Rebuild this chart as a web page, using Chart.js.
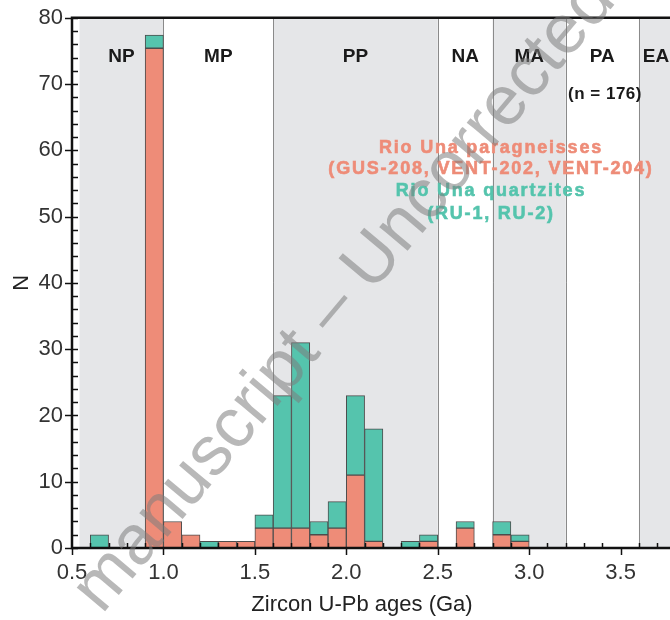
<!DOCTYPE html>
<html>
<head>
<meta charset="utf-8">
<script src="https://cdn.jsdelivr.net/npm/chart.js@4/dist/chart.umd.min.js"></script>
<style>
  html, body { margin: 0; padding: 0; background: #fff; }
  #wrap { width: 670px; height: 620px; }
</style>
</head>
<body>
<div id="wrap"><canvas id="myChart" width="670" height="620"></canvas></div>
<script>
"use strict";

// histogram bin centres (Ga), 0.1 Ga bins
let binCenters = [0.65, 0.95, 1.05, 1.15, 1.25, 1.35, 1.45, 1.55, 1.65, 1.75, 1.85, 1.95, 2.05, 2.15, 2.35, 2.45, 2.65, 2.85, 2.95];
let paragneissCounts = [0, 75.4, 4, 2, 0, 1, 1, 3, 3, 3, 2, 3, 11, 1, 0, 1, 3, 2, 1];
let quartziteCounts = [2, 2, 0, 0, 1, 0, 0, 2, 20, 28, 2, 4, 12, 17, 1, 1, 1, 2, 1];

let xTickLabels = [0.5, 1.0, 1.5, 2.0, 2.5, 3.0, 3.5];
let yTickLabels = [0, 10, 20, 30, 40, 50, 60, 70, 80];

// geological eras: name, start, end, shaded
let eraNames = ["NP", "MP", "PP", "NA", "MA", "PA", "EA"];
let eraStarts = [0.541, 1.0, 1.6, 2.5, 2.8, 3.2, 3.6];
let eraEnds = [1.0, 1.6, 2.5, 2.8, 3.2, 3.6, 4.0];
let eraShaded = [true, false, true, false, true, false, true];

let salmon = "#ee8c78";
let teal = "#55c4ad";
let fontFam = "'Liberation Sans', Arial, sans-serif";

function toPoints(values) {
  let pts = [];
  for (let i = 0; i < binCenters.length; i++) {
    pts.push({ x: binCenters[i], y: values[i] });
  }
  return pts;
}

function boldText(ctx, text, x, y) {
  ctx.fillText(text, x, y);
  ctx.strokeText(text, x, y);
}

let backdropPlugin = {
  id: "backdrop",
  beforeDatasetsDraw(chart) {
    let ctx = chart.ctx;
    let xs = chart.scales.x;
    let area = chart.chartArea;
    ctx.save();
    ctx.beginPath();
    ctx.rect(area.left, area.top, area.right - area.left, area.bottom - area.top);
    ctx.clip();
    for (let i = 0; i < eraNames.length; i++) {
      let x1 = xs.getPixelForValue(eraStarts[i]);
      let x2 = xs.getPixelForValue(eraEnds[i]);
      if (eraShaded[i]) {
        ctx.fillStyle = "#e5e6e8";
        ctx.fillRect(x1, area.top, x2 - x1, area.bottom - area.top);
      }
    }
    ctx.strokeStyle = "#8a8a8a";
    ctx.lineWidth = 1;
    for (let i = 1; i < eraStarts.length; i++) {
      let x = Math.round(xs.getPixelForValue(eraStarts[i])) + 0.5;
      ctx.beginPath();
      ctx.moveTo(x, area.top);
      ctx.lineTo(x, area.bottom);
      ctx.stroke();
    }
    ctx.restore();
  },
  afterDraw(chart) {
    let ctx = chart.ctx;
    let xs = chart.scales.x;
    let ys = chart.scales.y;
    let area = chart.chartArea;
    ctx.save();

    // era labels
    ctx.fillStyle = "#1a1a1a";
    ctx.font = "bold 19px " + fontFam;
    ctx.textAlign = "center";
    ctx.textBaseline = "middle";
    for (let i = 0; i < eraNames.length; i++) {
      let x = (xs.getPixelForValue(eraStarts[i]) + xs.getPixelForValue(Math.min(eraEnds[i], 3.77))) / 2;
      if (eraNames[i] === "EA") x = xs.getPixelForValue(3.6) + 17;
      ctx.fillText(eraNames[i], x, 57);
    }
    ctx.font = "bold 17px " + fontFam;
    ctx.letterSpacing = "0.5px";
    ctx.fillText("(n = 176)", 605, 94);

    // legend text
    ctx.font = "bold 18px " + fontFam;
    ctx.letterSpacing = "1.8px";
    ctx.lineWidth = 0.6;
    ctx.fillStyle = salmon;
    ctx.strokeStyle = salmon;
    boldText(ctx, "Rio Una paragneisses", 491, 148);
    boldText(ctx, "(GUS-208, VENT-202, VENT-204)", 491, 169);
    ctx.fillStyle = teal;
    ctx.strokeStyle = teal;
    boldText(ctx, "Rio Una quartzites", 491, 191);
    boldText(ctx, "(RU-1, RU-2)", 491, 214);
    ctx.letterSpacing = "0px";

    // x axis title
    ctx.fillStyle = "#222";
    ctx.font = "22px " + fontFam;
    ctx.fillText("Zircon U-Pb ages (Ga)", 362, 605);

    // axis ticks: major outside, minor inside
    ctx.strokeStyle = "#111";
    ctx.lineWidth = 1.5;
    for (let v = 5; v <= 37; v++) {
      let x = Math.round(xs.getPixelForValue(v / 10)) + 0.5;
      ctx.beginPath();
      if (v % 5 === 0) {
        ctx.moveTo(x, area.bottom);
        ctx.lineTo(x, area.bottom + 7);
      } else {
        ctx.moveTo(x, area.bottom);
        ctx.lineTo(x, area.bottom - 5);
      }
      ctx.stroke();
    }
    for (let v = 0; v <= 80; v += 2) {
      let y = Math.round(ys.getPixelForValue(v)) + 0.5;
      ctx.beginPath();
      if (v % 10 === 0) {
        ctx.moveTo(area.left - 7, y);
        ctx.lineTo(area.left + 6, y);
      } else {
        ctx.moveTo(area.left, y);
        ctx.lineTo(area.left + 6, y);
      }
      ctx.stroke();
    }

    // frame: left, bottom, top
    ctx.lineWidth = 2.5;
    ctx.beginPath();
    ctx.moveTo(area.right, area.top);
    ctx.lineTo(area.left, area.top);
    ctx.lineTo(area.left, area.bottom);
    ctx.lineTo(area.right, area.bottom);
    ctx.stroke();

    // watermark
    ctx.translate(102, 615);
    ctx.rotate(-50 * Math.PI / 180);
    ctx.font = "70px " + fontFam;
    ctx.fillStyle = "rgba(125, 125, 125, 0.55)";
    ctx.textAlign = "left";
    ctx.textBaseline = "alphabetic";
    ctx.fillText("manuscript \u2013 Uncorrected proof", 0, 0);
    ctx.restore();
  }
};

let ctx = document.getElementById("myChart").getContext("2d");
let myChart = new Chart(ctx, {
  type: "bar",
  data: {
    datasets: [
      {
        label: "Rio Una paragneisses",
        data: toPoints(paragneissCounts),
        backgroundColor: salmon,
        borderColor: "#4d4d4d",
        borderWidth: 1,
        borderSkipped: false,
        barPercentage: 1,
        categoryPercentage: 1,
      },
      {
        label: "Rio Una quartzites",
        data: toPoints(quartziteCounts),
        backgroundColor: teal,
        borderColor: "#4d4d4d",
        borderWidth: 1,
        borderSkipped: false,
        barPercentage: 1,
        categoryPercentage: 1,
      },
    ],
  },
  options: {
    responsive: false,
    animation: false,
    layout: { padding: { left: 0, right: 0, top: 13, bottom: 0 } },
    plugins: {
      legend: { display: false },
      tooltip: { enabled: false },
    },
    scales: {
      x: {
        type: "linear",
        stacked: true,
        offset: false,
        min: 0.5,
        max: 3.77,
        afterBuildTicks: (scale) => {
          scale.ticks = xTickLabels.map((v) => ({ value: v }));
        },
        afterFit: (scale) => {
          scale.height = 72;
        },
        ticks: {
          color: "#333",
          font: { family: fontFam, size: 22 },
          padding: 12,
          maxRotation: 0,
          callback: (v) => Number(v).toFixed(1),
        },
        grid: { display: false, drawTicks: false },
        border: { display: false },
        title: { display: false },
      },
      y: {
        stacked: true,
        min: 0,
        max: 80,
        afterBuildTicks: (scale) => {
          scale.ticks = yTickLabels.map((v) => ({ value: v }));
        },
        afterFit: (scale) => {
          scale.width = 72;
        },
        ticks: {
          color: "#333",
          font: { family: fontFam, size: 22, lineHeight: 0.8 },
          padding: 9,
        },
        grid: { display: false, drawTicks: false },
        border: { display: false },
        title: {
          display: true,
          text: "N",
          color: "#222",
          font: { family: fontFam, size: 22 },
          padding: { top: 9, bottom: 0 },
        },
      },
    },
  },
  plugins: [backdropPlugin],
});
</script>
</body>
</html>
